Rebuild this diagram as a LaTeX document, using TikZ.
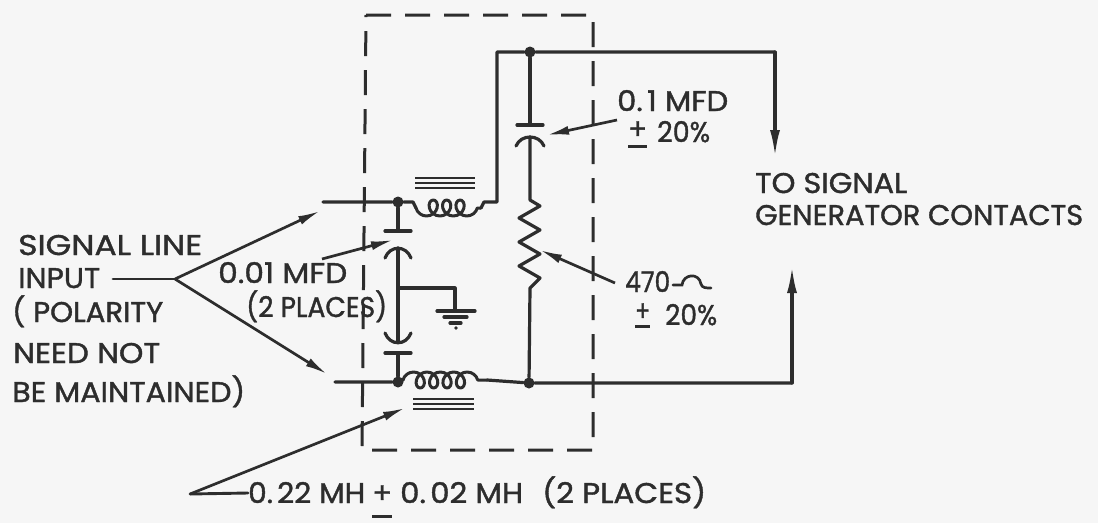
\documentclass[tikz,border=0pt]{standalone}
\usepackage{fontspec}
\setmainfont{Poppins}[FakeBold=1.3]
\usetikzlibrary{arrows.meta,decorations.pathmorphing}
\definecolor{ink}{RGB}{45,45,45}
\definecolor{paper}{RGB}{246,246,246}
\newsavebox\tbox
\newsavebox\pbox
\newcommand\fitw[2]{\sbox\tbox{#2}\scalebox{\fpeval{(#1)/(\the\wd\tbox)}}[1]{\usebox\tbox}}
% underlined plus: #1 raise of the plus, #2 position of the bar
\newcommand\upl[2]{\sbox\pbox{\raisebox{#1}{+}}\makebox[0pt][l]{\rule[#2]{\wd\pbox}{2.6pt}}\usebox\pbox}
\begin{document}
\begin{tikzpicture}[x=1pt,y=-1pt,
  wire/.style={draw=ink,line width=3.2pt,line cap=round,line join=round},
  core/.style={draw=ink,line width=2.4pt},
  lead/.style={draw=ink,line width=2.7pt,-{Latex[length=22pt,width=9pt]}},
  boxline/.style={draw=ink,line width=3pt,dash pattern=on 25pt off 14pt},
  lbl/.style={anchor=base west,inner sep=0,text=ink,font=\fontsize{28.5}{30}\selectfont},
  jdot/.style={circle,fill=ink,inner sep=0,minimum size=11pt},
  coilst/.style={wire,line width=3pt,decorate,decoration={coil,aspect=0.9,segment length=13.4pt,amplitude=8pt}}
  ]
\fill[paper] (0,0) rectangle (1098,523);
\useasboundingbox (0,0) rectangle (1098,523);

% dashed enclosure
\draw[boxline] (366,15) -- (593,15) -- (593,450) -- (362,450) -- cycle;

% junctions and corner coordinates
\node[jdot] (j1) at (398,202) {};
\node[jdot] (j2) at (398,382) {};
\node[jdot] (j3) at (530,52) {};
\node[jdot] (j4) at (529,383) {};
\coordinate (tin) at (323,202);
\coordinate (bin) at (335,382);
\coordinate (c1) at (497,202);
\coordinate (c2) at (497,52);
\coordinate (c3) at (775,52);
\coordinate (a1) at (775,157);
\coordinate (c4) at (792,383);
\coordinate (a2) at (792,266);

% top input wire and coil
\draw[wire] (tin) -- (j1) -- (413,202) -- (416,208);
\draw[coilst,decoration={mirror}] (416,208) -- (481,208);
\draw[wire] (481,208) -- (484,202) -- (c1) -- (c2) -- (j3) -- (c3);
\draw[wire,-{Latex[length=27pt,width=10pt]}] (c3) -- (a1);
\foreach \y in {178,183,188} \draw[core] (415,\y) -- (475,\y);

% bottom input wire and coil
\draw[wire] (bin) -- (j2) -- (403,380);
\draw[coilst] (403,380) -- (487,380);
\draw[wire] (487,380) -- (j4) -- (c4);
\draw[wire,-{Latex[length=27pt,width=10pt]}] (c4) -- (a2);
\foreach \y in {399,404,409} \draw[core] (413,\y) -- (474,\y);

% 0.01 MFD capacitors and ground
\draw[wire] (j1) -- (398,231);
\draw[wire] (385,231) -- (411,231);
\draw[wire] (385,258) .. controls (390,245) and (406,245) .. (411,258);
\draw[wire] (398,248) -- (398,342);
\draw[wire] (385,333) .. controls (390,346) and (406,346) .. (411,333);
\draw[wire] (385,353) -- (411,353);
\draw[wire] (398,353) -- (j2);
\draw[wire] (398,288) -- (455,288) -- (455,311);
\draw[wire] (437,311) -- (475,311);
\draw[wire] (444,317) -- (467,317);
\draw[wire] (450,323) -- (461,323);
\fill[ink] (456,328) circle (1.8pt);

% 0.1 MFD capacitor and 470 resistor
\draw[wire] (j3) -- (530,125);
\draw[wire] (517,125) -- (543,125);
\draw[wire] (516,146) .. controls (521,134) and (539,134) .. (544,146);
\draw[wire] (530,137) -- (530,200) -- (540,206) -- (519,218) -- (540,230) -- (519,242)
  -- (540,254) -- (519,266) -- (540,278) -- (530,288) -- (j4);

% labels
\node[lbl] (tsig) at (755,193) {\fitw{152pt}{TO SIGNAL}};
\node[lbl] (tgen) at (755,225) {\fitw{328pt}{GENERATOR CONTACTS}};
\node[lbl] (cap1) at (617,111) {\fitw{111pt}{0.\kern4pt1 MFD}};
\node[lbl] (cap1t) at (628,142) {\fitw{19pt}{\upl{3pt}{-6pt}}\hspace{10pt}\fitw{53pt}{20\%}};
\node[lbl] (res) at (625,292) {\fitw{45pt}{470}};
\draw[draw=ink,line width=2.7pt,line cap=round] (673,285) -- (682,285)
  .. controls (683,274) and (699,272) .. (701,284) .. controls (702,288) and (706,288) .. (711,288);
\node[lbl] (rest) at (635,325) {\fitw{15pt}{\upl{4pt}{-3pt}}\hspace{15pt}\fitw{52pt}{20\%}};
\node[lbl] (s1) at (18,255) {\fitw{184pt}{SIGNAL LINE}};
\node[lbl] (s2) at (18,288) {\fitw{82pt}{INPUT}};
\node[lbl] (s3) at (12,322) {\fitw{151pt}{( POLARITY}};
\node[lbl] (s4) at (13,363) {\fitw{147pt}{NEED NOT}};
\node[lbl] (s5) at (12,402) {\fitw{233pt}{BE MAINTAINED)}};
\node[lbl] (cc1) at (218,283) {\fitw{129pt}{0.01 MFD}};
\node[lbl] (cc2) at (246,317) {\fitw{141pt}{(2 PLACES)}};
\node[lbl] (ind) at (248,503) {\fitw{117pt}{0.\kern4pt22 MH}\hspace{7pt}\fitw{20pt}{\upl{0pt}{-15pt}}\hspace{8pt}\fitw{123pt}{0.\kern4pt02 MH}\hspace{19pt}\fitw{164pt}{(2 PLACES)}};

% leaders
\coordinate (br) at (175,279);
\coordinate (s2e) at (113,279);
\draw[wire,line width=2.9pt] (s2e) -- (br);
\draw[lead] (br) -- (320,211);
\draw[lead] (br) -- (327,374);
\coordinate (cl) at (322,259);
\draw[lead] (cl) -- (393,240);
\coordinate (c1l) at (617,120);
\draw[lead] (c1l) -- (547,135);
\coordinate (rl) at (615,283);
\draw[lead] (rl) -- (540,250);
\coordinate (il) at (248,493);
\coordinate (ik) at (190,494);
\draw[wire,line width=2.9pt] (il) -- (ik);
\draw[lead] (ik) -- (405,408);
\end{tikzpicture}
\end{document}
